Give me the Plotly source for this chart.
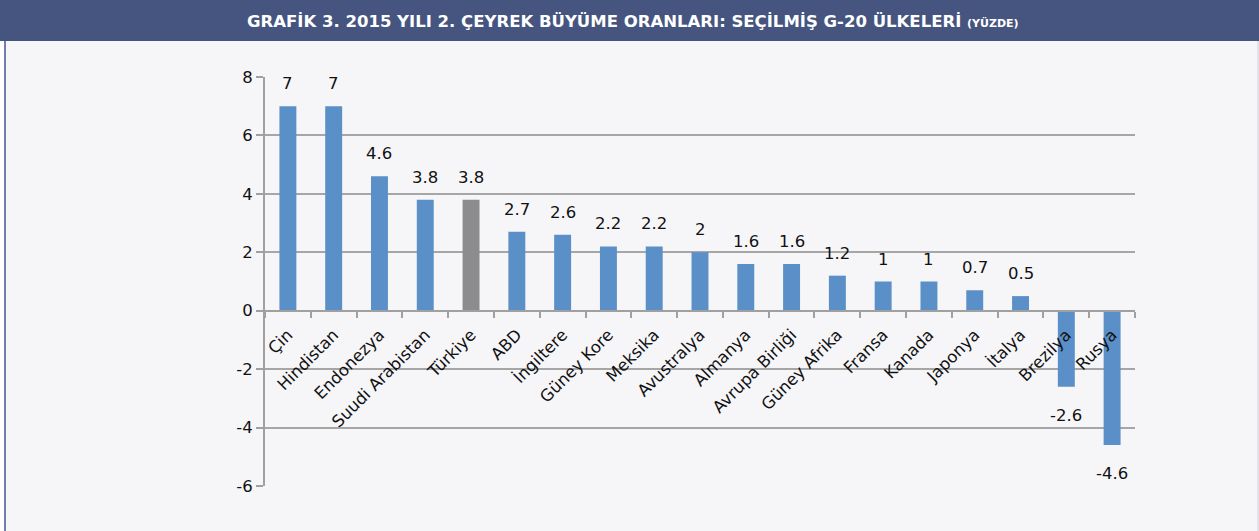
import plotly.graph_objects as go

countries = ["Çin", "Hindistan", "Endonezya", "Suudi Arabistan", "Türkiye", "ABD", "İngiltere",
             "Güney Kore", "Meksika", "Avustralya", "Almanya", "Avrupa Birliği", "Güney Afrika",
             "Fransa", "Kanada", "Japonya", "İtalya", "Brezilya", "Rusya"]
growth = [7, 7, 4.6, 3.8, 3.8, 2.7, 2.6, 2.2, 2.2, 2, 1.6, 1.6, 1.2, 1, 1, 0.7, 0.5, -2.6, -4.6]
highlight = "Türkiye"
y_ticks = [-6, -4, -2, 0, 2, 4, 6, 8]

W, H = 1259, 531
L, R, T, B = 265, 124, 77, 45
pw, ph = W - L - R, H - T - B

FONT = "DejaVu Sans"
blue = "#5b8fc7"
grey_bar = "#8c8c8e"
colors = [grey_bar if c == highlight else blue for c in countries]

fig = go.Figure(go.Bar(
    x=countries, y=growth, marker=dict(color=colors, line=dict(width=0)),
    width=0.37, hoverinfo="x+y",
))

for c, v in zip(countries, growth):
    fig.add_annotation(
        x=c, y=v, text=f"{v:g}", showarrow=False,
        yanchor="bottom" if v >= 0 else "top",
        yshift=11 if v >= 0 else -17,
        font=dict(size=16.5, color="#111111", family=FONT),
    )

ymin, ymax = -6, 8
zero_pos = (0 - ymin) / (ymax - ymin)

fig.update_layout(
    width=W, height=H,
    margin=dict(l=L, r=R, t=T, b=B),
    paper_bgcolor="#f6f6f9", plot_bgcolor="#f6f6f9",
    showlegend=False,
    font=dict(family=FONT, color="#111111"),
    xaxis=dict(
        anchor="free", position=zero_pos,
        showline=True, linecolor="#a0a0a0", linewidth=2,
        ticks="outside", tickson="boundaries", ticklen=6, tickcolor="#a0a0a0", tickwidth=2,
        tickangle=-45, tickfont=dict(size=16.5, color="#111111"), ticklabelstandoff=7,
        showgrid=False, zeroline=False,
    ),
    yaxis=dict(
        range=[ymin, ymax], tickvals=y_ticks, ticktext=[str(v) for v in y_ticks],
        showline=True, linecolor="#a0a0a0", linewidth=2,
        ticks="outside", ticklen=7, tickcolor="#a0a0a0", tickwidth=2,
        showgrid=True, gridcolor="#a6a6a6", gridwidth=1.5, zeroline=False,
        tickfont=dict(size=16.5, color="#111111"),
    ),
)

# white strip at left
fig.add_shape(type="rect", xref="paper", yref="paper", layer="below",
              x0=-L / pw, x1=(-L + 4) / pw, y0=-B / ph, y1=1 + T / ph,
              fillcolor="white", line=dict(width=0))
# header band
fig.add_shape(type="rect", xref="paper", yref="paper", layer="above",
              x0=-L / pw, x1=1 + R / pw, y0=1 + (T - 41) / ph, y1=1 + T / ph,
              fillcolor="#45557f", line=dict(width=0))
# left frame line
fig.add_shape(type="line", xref="paper", yref="paper", layer="above",
              x0=(-L + 5) / pw, x1=(-L + 5) / pw, y0=-B / ph, y1=1 + (T - 41) / ph,
              line=dict(color="#7080a8", width=2))
# right frame line
fig.add_shape(type="line", xref="paper", yref="paper", layer="above",
              x0=1 + (R - 1) / pw, x1=1 + (R - 1) / pw, y0=-B / ph, y1=1 + (T - 41) / ph,
              line=dict(color="#d0d0d8", width=1))

fig.add_annotation(
    xref="paper", yref="paper", x=(633 - L) / pw, y=1 + (T - 21) / ph,
    text="<b>GRAFİK 3. 2015 YILI 2. ÇEYREK BÜYÜME ORANLARI: SEÇİLMİŞ G-20 ÜLKELERİ "
         "<span style='font-size:11px'>(YÜZDE)</span></b>",
    showarrow=False, font=dict(size=16.5, color="white", family=FONT),
    xanchor="center", yanchor="middle",
)

fig.write_html("out.html", config={"displayModeBar": False},
               post_script="document.body.style.margin='0';document.body.style.overflow='hidden';")
